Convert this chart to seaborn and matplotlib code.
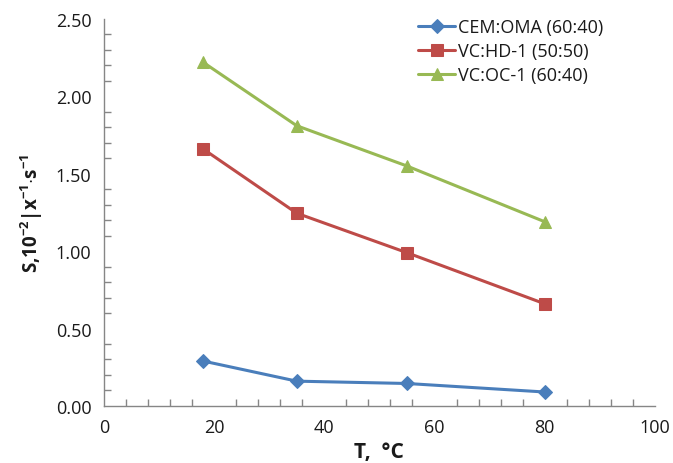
import matplotlib
matplotlib.use("Agg")
import matplotlib.pyplot as plt
import seaborn as sns
import pandas as pd
from matplotlib.ticker import MultipleLocator, FormatStrFormatter

temps = [18, 35, 55, 80]
cem_oma = [0.29, 0.16, 0.145, 0.09]
vc_hd1 = [1.66, 1.245, 0.99, 0.66]
vc_oc1 = [2.22, 1.81, 1.55, 1.19]
series_names = ["CEM:OMA (60:40)", "VC:HD-1 (50:50)", "VC:OC-1 (60:40)"]

df = pd.concat([
    pd.DataFrame({"T": temps, "S": cem_oma, "series": series_names[0]}),
    pd.DataFrame({"T": temps, "S": vc_hd1, "series": series_names[1]}),
    pd.DataFrame({"T": temps, "S": vc_oc1, "series": series_names[2]}),
])

sns.set_theme(style="white")
plt.rcParams["font.family"] = ["Open Sans", "DejaVu Sans"]
plt.rcParams["mathtext.fontset"] = "custom"
plt.rcParams["mathtext.rm"] = "Open Sans"
plt.rcParams["mathtext.bf"] = "Open Sans:bold"

fig = plt.figure(figsize=(6.73, 4.64), dpi=100)
ax = fig.add_axes([0.1545, 0.123, 0.8185, 0.834])

palette = {series_names[0]: "#4A7EBB", series_names[1]: "#BE4B48", series_names[2]: "#98B954"}
markers = {series_names[0]: "D", series_names[1]: "s", series_names[2]: "^"}
sizes = {series_names[0]: 7, series_names[1]: 9, series_names[2]: 9}

for name in series_names:
    sub = df[df["series"] == name]
    sns.lineplot(data=sub, x="T", y="S", ax=ax, color=palette[name], marker=markers[name],
                 markersize=sizes[name], markeredgecolor=palette[name], linewidth=2.2,
                 label=name)

ax.set_xlim(0, 100)
ax.set_ylim(0, 2.5)
ax.xaxis.set_major_locator(MultipleLocator(20))
ax.xaxis.set_minor_locator(MultipleLocator(4))
ax.yaxis.set_major_locator(MultipleLocator(0.5))
ax.yaxis.set_minor_locator(MultipleLocator(0.1))
ax.yaxis.set_major_formatter(FormatStrFormatter("%.2f"))

for s in ["top", "right"]:
    ax.spines[s].set_visible(False)
for s in ["left", "bottom"]:
    ax.spines[s].set_color("#868686")
    ax.spines[s].set_linewidth(1.0)

ax.tick_params(axis="both", which="major", direction="out", length=6, width=1,
               color="#868686", labelsize=13, labelcolor="#1a1a1a", pad=3)
ax.tick_params(axis="both", which="minor", direction="in", length=5, width=1,
               color="#868686", left=True, bottom=True)

ax.set_xlabel("T,  °C", fontsize=15, fontweight="bold", labelpad=3, color="#1a1a1a")
ax.set_ylabel(r"S,10$^{\mathbf{-2}}$|x$^{\mathbf{-1}}$$\cdot$s$^{\mathbf{-1}}$",
              fontsize=13.5, fontweight="bold", labelpad=8, color="#1a1a1a")

leg = ax.legend(loc="upper left", bbox_to_anchor=(418 / 673, 1 - 19 / 464),
                bbox_transform=fig.transFigure, frameon=False, fontsize=13,
                handlelength=2.05, handletextpad=0.15, labelspacing=0.33,
                borderaxespad=0, borderpad=0)
for t in leg.get_texts():
    t.set_color("#1a1a1a")

fig.savefig("out.png", dpi=100)
